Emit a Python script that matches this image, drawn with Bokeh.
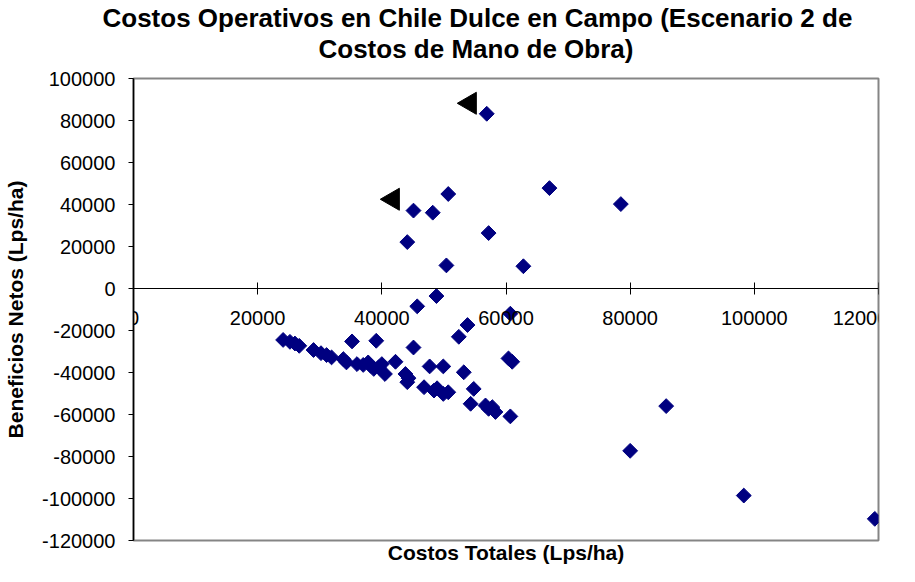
import math
from bokeh.plotting import figure
from bokeh.models import (LinearAxis, Range1d, FixedTicker, ColumnDataSource, Title,
                          BasicTickFormatter)
from bokeh.embed import file_html
from bokeh.resources import INLINE

# Data (Lps/ha)
costos_totales = [56900, 50700, 45100, 48200, 57200, 44100, 50400, 62800, 67000, 78500,
                  48800, 45700, 60700, 53800, 52400, 35200, 39100, 45100,
                  24100, 25200, 26000, 26700, 29000, 30200, 31100, 31900, 33800, 34300,
                  36000, 37000, 37800, 38200, 38700, 39500, 40000, 40500, 42200, 43800,
                  44100, 44300, 47700, 49900, 53200, 46800, 48400, 48900, 49900, 50700,
                  54800, 54300, 56700, 57200, 57800, 58300, 60700, 60400, 61000,
                  85800, 80000, 98300, 119400]
beneficios_netos = [83200, 45000, 37100, 36100, 26400, 22100, 11000, 10600, 47800, 40200,
                    -3600, -8500, -12000, -17400, -23000, -25200, -24900, -28100,
                    -24500, -25400, -26200, -27300, -29300, -30800, -31700, -32800, -33600, -35200,
                    -36000, -36400, -35200, -36800, -38300, -37500, -36000, -40700, -34900, -40700,
                    -44600, -42700, -37100, -37100, -39900, -47000, -48600, -47500, -50200, -49400,
                    -47800, -54900, -55700, -57300, -56500, -58800, -60900, -33300, -34900,
                    -56000, -77300, -98600, -109700]

# Arrow annotations (left-pointing black triangles)
arrow_x = [54200, 41800]
arrow_y = [88200, 42500]

x_ticks = [0, 20000, 40000, 60000, 80000, 100000, 120000]
y_ticks = [-120000, -100000, -80000, -60000, -40000, -20000, 0, 20000, 40000, 60000, 80000, 100000]

title_lines = ["Costos Operativos en Chile Dulce en Campo (Escenario 2 de",
               "Costos de Mano de Obra)"]
x_label = "Costos Totales (Lps/ha)"
y_label = "Beneficios Netos (Lps/ha)"

FONT = "Liberation Sans"

p = figure(width=899, height=566, output_backend="svg", toolbar_location=None,
           x_range=Range1d(0, 120000), y_range=Range1d(-120000, 100000),
           x_axis_location=None, y_axis_location=None,
           min_border_left=133, min_border_right=21, min_border_top=78, min_border_bottom=23,
           background_fill_color="white", border_fill_color="white")
p.xgrid.visible = False
p.ygrid.visible = False
p.outline_line_color = "#858585"
p.outline_line_width = 2

# Title: first line (outer) is the figure title; second line sits closest to the plot
p.title.text = title_lines[0]
p.title.align = "left"
p.title.offset = -31
p.title.standoff = -32
p.title.text_font = FONT
p.title.text_font_style = "bold"
p.title.text_font_size = "26px"
p.title.text_color = "black"
t2 = Title(text=title_lines[1], align="left", offset=185, standoff=29.5,
           text_font=FONT, text_font_style="bold", text_font_size="26px", text_color="black")
p.add_layout(t2, "above")

# Y axis
yaxis = LinearAxis(ticker=FixedTicker(ticks=y_ticks), axis_label=y_label,
                   formatter=BasicTickFormatter(use_scientific=False))
yaxis.major_label_overrides = {t: str(t) for t in y_ticks}
yaxis.axis_line_color = "black"
yaxis.axis_line_width = 1.5
yaxis.major_tick_line_color = "black"
yaxis.major_tick_in = 0
yaxis.major_tick_out = 5
yaxis.minor_tick_line_color = None
yaxis.major_label_standoff = 13
yaxis.major_label_text_font = FONT
yaxis.major_label_text_font_size = "20px"
yaxis.major_label_text_color = "black"
yaxis.axis_label_text_font = FONT
yaxis.axis_label_text_font_style = "bold"
yaxis.axis_label_text_font_size = "21px"
yaxis.axis_label_text_color = "black"
yaxis.axis_label_standoff = 12
p.add_layout(yaxis, "left")

# X axis crossing at y = 0
xaxis = LinearAxis(ticker=FixedTicker(ticks=x_ticks), fixed_location=0,
                   formatter=BasicTickFormatter(use_scientific=False))
xaxis.major_label_overrides = {t: str(t) for t in x_ticks}
xaxis.axis_line_color = "black"
xaxis.axis_line_width = 1
xaxis.major_tick_line_color = "black"
xaxis.major_tick_in = 6
xaxis.major_tick_out = 6
xaxis.minor_tick_line_color = None
xaxis.major_label_standoff = 16
xaxis.major_label_text_font = FONT
xaxis.major_label_text_font_size = "20px"
xaxis.major_label_text_color = "black"
p.add_layout(xaxis, "below")

# Bottom axis holding only the x-axis title
xlab = LinearAxis(ticker=FixedTicker(ticks=[]), axis_label=x_label)
xlab.axis_line_color = None
xlab.major_tick_line_color = None
xlab.minor_tick_line_color = None
xlab.major_label_text_font_size = "0px"
xlab.major_label_standoff = 0
xlab.major_tick_out = 0
xlab.major_tick_in = 0
xlab.axis_label_text_font = FONT
xlab.axis_label_text_font_style = "bold"
xlab.axis_label_text_font_size = "21px"
xlab.axis_label_text_color = "black"
xlab.axis_label_standoff = 0
p.add_layout(xlab, "below")

src = ColumnDataSource(data=dict(x=costos_totales, y=beneficios_netos))
p.scatter("x", "y", source=src, marker="square", angle=math.pi / 4, size=10.5,
          fill_color="#000080", line_color="#000080", line_width=1)

p.scatter(arrow_x, arrow_y, marker="triangle", angle=math.pi / 2, size=22,
          fill_color="black", line_color="black")

open("out.html", "w").write(file_html(p, INLINE))
